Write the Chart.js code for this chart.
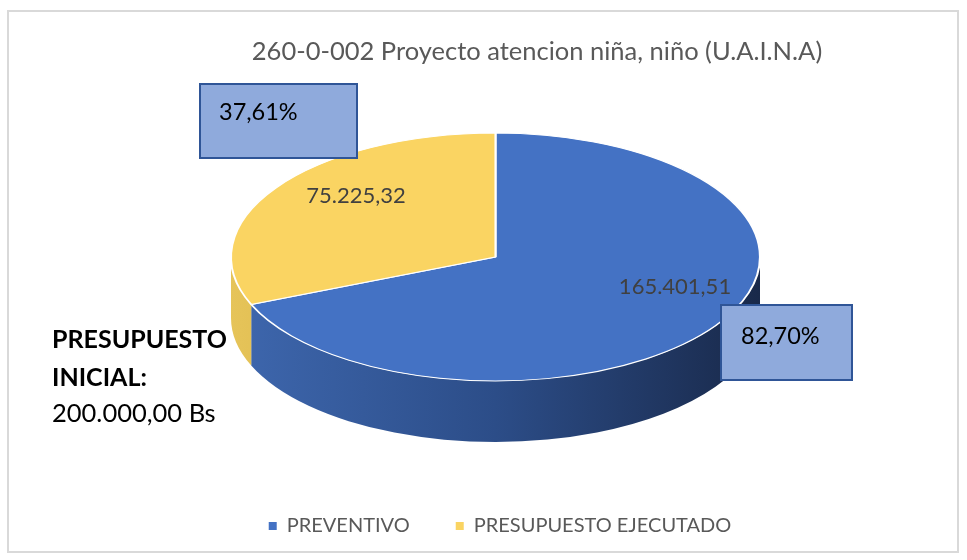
<!DOCTYPE html>
<html>
<head>
<meta charset="utf-8">
<script src="https://cdn.jsdelivr.net/npm/chart.js@4.4.1/dist/chart.umd.min.js"></script>
<style>
  html,body{margin:0;padding:0;background:#fff;}
  #wrap{position:absolute;left:0;top:0;width:967px;height:560px;}
</style>
</head>
<body>
<div id="wrap"><canvas id="c" width="967" height="560"></canvas></div>
<script>
// ---- data ----
const titleText = '260-0-002 Proyecto atencion niña, niño (U.A.I.N.A)';
const categories = ['PREVENTIVO', 'PRESUPUESTO EJECUTADO'];
const values = [165401.51, 75225.32];
const initialBudget = 200000;
const budgetLines = ['PRESUPUESTO', 'INICIAL:', '200.000,00 Bs'];
const topColors = ['#4472C4', '#FAD462'];

// ---- styling / geometry ----
const FONT = 'Lato, "Liberation Sans", sans-serif';
const GEO = {ex: 495.5, ey: 257, rx: 264.5, ry: 124, depth: 61, apexShift: -23};
const sideStops = [
  [[0, '#3e67ae'], [0.5, '#2c4d88'], [1, '#19294a']],
  [[0, '#e6c459'], [0.5, '#c9a63a'], [1, '#8a6d1c']]
];
const labelFrac = [[0.816, 0.77], [0.634, 0.55]];
const pctBoxes = [
  {x: 721, y: 305, w: 131, h: 75, tx: 741, ty: 336},
  {x: 200, y: 84, w: 157, h: 74, tx: 219, ty: 112}
];

function fmtNum(v){
  const s = v.toFixed(2).split('.');
  return s[0].replace(/\B(?=(\d{3})+(?!\d))/g, '.') + ',' + s[1];
}
function fmtPct(v){ return (v / initialBudget * 100).toFixed(2).replace('.', ',') + '%'; }

const pie3d = {
  id: 'pie3d',
  beforeDraw(chart){
    const ctx = chart.ctx;
    ctx.save();
    ctx.fillStyle = '#fff';
    ctx.fillRect(0, 0, chart.width, chart.height);
    ctx.strokeStyle = '#d9d9d9';
    ctx.lineWidth = 2;
    ctx.strokeRect(8, 11, 950, 541);
    // title
    ctx.fillStyle = '#595959';
    ctx.font = '25.5px ' + FONT;
    ctx.textAlign = 'center';
    ctx.textBaseline = 'middle';
    ctx.fillText(titleText, 537, 52);
    ctx.restore();
  },
  beforeDatasetsDraw(chart){
    const ctx = chart.ctx;
    const meta = chart.getDatasetMeta(0);
    const {ex, ey, rx, ry, depth} = GEO;
    ctx.save();
    meta.data.forEach((arc, i) => {
      const a0 = arc.startAngle, a1 = arc.endAngle;
      for (let k = -1; k <= 1; k++){
        const off = 2 * Math.PI * k;
        const s = Math.max(a0, off), e = Math.min(a1, Math.PI + off);
        if (e > s){
          const ss = s - off, ee = e - off;
          const g = ctx.createLinearGradient(ex - rx, 0, ex + rx, 0);
          sideStops[i].forEach(st => g.addColorStop(st[0], st[1]));
          ctx.beginPath();
          ctx.ellipse(ex, ey, rx, ry, 0, ss, ee, false);
          ctx.ellipse(ex, ey + depth, rx, ry, 0, ee, ss, true);
          ctx.closePath();
          ctx.fillStyle = g;
          ctx.fill();
        }
      }
    });
    ctx.restore();
    const a = meta.data[0];
    const R = a.outerRadius;
    ctx.save();
    ctx.translate(ex, ey);
    ctx.scale(rx / R, ry / R);
    ctx.translate(-a.x, -a.y);
  },
  afterDatasetsDraw(chart){
    const ctx = chart.ctx;
    ctx.restore();
    const meta = chart.getDatasetMeta(0);
    const {ex, ey, rx, ry, apexShift} = GEO;
    ctx.save();
    // value labels
    ctx.font = '22px ' + FONT;
    ctx.fillStyle = '#404040';
    ctx.textAlign = 'center';
    ctx.textBaseline = 'middle';
    meta.data.forEach((arc, i) => {
      const m = (arc.startAngle + arc.endAngle) / 2;
      const f = labelFrac[i];
      ctx.fillText(fmtNum(values[i]), ex + f[0] * rx * Math.cos(m), ey + apexShift + f[1] * ry * Math.sin(m));
    });
    // percentage boxes
    values.forEach((v, i) => {
      const b = pctBoxes[i];
      ctx.fillStyle = '#8FAADC';
      ctx.fillRect(b.x, b.y, b.w, b.h);
      ctx.strokeStyle = '#2F5597';
      ctx.lineWidth = 2;
      ctx.strokeRect(b.x, b.y, b.w, b.h);
      ctx.fillStyle = '#000';
      ctx.textAlign = 'left';
      ctx.font = '23.5px ' + FONT;
      ctx.fillText(fmtPct(v), b.tx, b.ty);
    });
    // initial budget text
    ctx.fillStyle = '#000';
    ctx.textAlign = 'left';
    ctx.font = 'bold 25px ' + FONT;
    ctx.fillText(budgetLines[0], 52, 340);
    ctx.fillText(budgetLines[1], 52, 378);
    ctx.font = '25.5px ' + FONT;
    ctx.fillText(budgetLines[2], 52, 414);
    ctx.restore();
  }
};

new Chart(document.getElementById('c'), {
  type: 'pie',
  data: {
    labels: categories,
    datasets: [{
      data: values,
      backgroundColor: topColors,
      borderColor: '#ffffff',
      borderWidth: 1.5,
      clip: false
    }]
  },
  options: {
    responsive: false,
    animation: false,
    layout: {padding: {top: 90, bottom: 14, left: 43, right: 10}},
    plugins: {
      tooltip: {enabled: false},
      title: {display: false},
      legend: {
        position: 'bottom',
        labels: {
          color: '#595959',
          font: {family: FONT, size: 20},
          boxWidth: 8,
          boxHeight: 8,
          padding: 46,
          generateLabels(chart){
            const items = Chart.overrides.pie.plugins.legend.labels.generateLabels(chart);
            items.forEach(it => { it.lineWidth = 0; it.strokeStyle = 'rgba(0,0,0,0)'; });
            return items;
          }
        }
      }
    }
  },
  plugins: [pie3d]
});
</script>
</body>
</html>
